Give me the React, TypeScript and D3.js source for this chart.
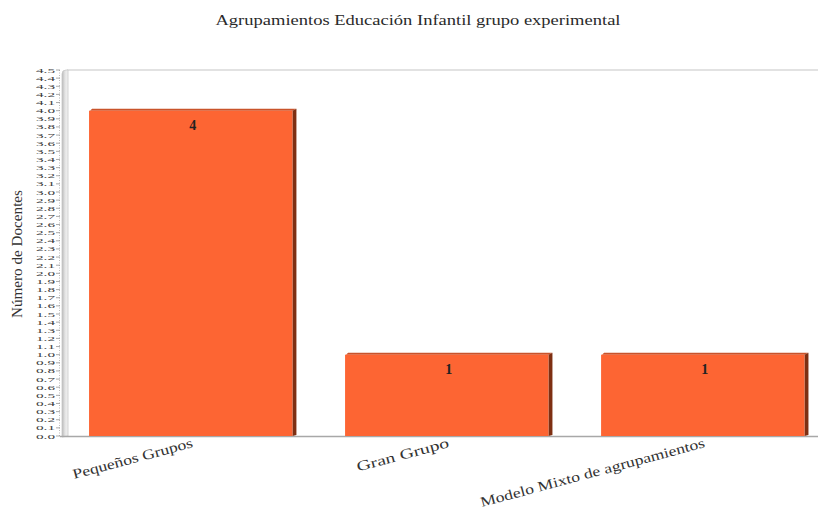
import React from "react";
import * as d3 from "d3";

const title = "Agrupamientos Educación Infantil grupo experimental";
const yTitle = "Número de Docentes";
const categories = ["Pequeños Grupos", "Gran Grupo", "Modelo Mixto de agrupamientos"];
const values = [4, 1, 1];
const labelLengths = [124, 95, 232];
const yTicks = d3.range(0, 46).map((i) => i / 10);

const W = 826;
const H = 520;
const base = 436;
const top = 70;
const serif = "'Liberation Serif', 'DejaVu Serif', serif";

export default function App() {
  const x = d3
    .scaleBand<string>()
    .domain(categories)
    .range([66, 831.5])
    .paddingInner(0.19)
    .paddingOuter(0.09);
  const y = d3.scaleLinear().domain([0, 4.5]).range([base, top]);
  const bw = x.bandwidth();
  const depth = 4;

  return (
    <div style={{ margin: -8, width: W, height: H, overflow: "hidden", background: "#fff" }}>
      <svg width={W} height={H} style={{ display: "block" }}>
        <defs>
          <linearGradient id="wall" x1="0" x2="1" y1="0" y2="0">
            <stop offset="0" stopColor="#b8b8b8" />
            <stop offset="0.5" stopColor="#e4e4e4" />
            <stop offset="1" stopColor="#f2f2f2" />
          </linearGradient>
        </defs>
        <rect width={W} height={H} fill="#fff" />

        <text
          x={418}
          y={25}
          textAnchor="middle"
          fontFamily={serif}
          fontSize={14}
          fill="#2a2a2a"
          textLength={405}
          lengthAdjust="spacingAndGlyphs"
        >
          {title}
        </text>

        {/* back wall outline and side wall */}
        <line x1={67} x2={W} y1={top} y2={top} stroke="#d9d9d9" strokeWidth={1.5} />
        <path
          d={`M62,${base + 1} L62,${top + 4} Q62,${top} 66,${top} L68,${top} L68,${base} Z`}
          fill="url(#wall)"
          stroke="#c8c8c8"
          strokeWidth={0.8}
        />
        <line x1={60} x2={W} y1={base + 0.5} y2={base + 0.5} stroke="#a8a8a8" strokeWidth={1.5} />

        {/* y axis: one tick every 0.1 */}
        <line x1={59.5} x2={59.5} y1={top} y2={base} stroke="#bbb" strokeDasharray="1 1.5" />
        {yTicks.map((t) => (
          <g key={t}>
            <line x1={56} x2={60} y1={y(t)} y2={y(t)} stroke="#888" strokeWidth={0.7} />
            <text
              x={55}
              y={y(t) + 2.5}
              textAnchor="end"
              fontFamily={serif}
              fontSize={7}
              fill="#3a3a3a"
              textLength={19}
              lengthAdjust="spacingAndGlyphs"
            >
              {t.toFixed(1)}
            </text>
          </g>
        ))}
        <text
          transform={`translate(22,254) rotate(-90)`}
          textAnchor="middle"
          fontFamily={serif}
          fontSize={14}
          fill="#333"
          textLength={128}
          lengthAdjust="spacingAndGlyphs"
        >
          {yTitle}
        </text>

        {/* bars with a shaded top and right face */}
        {categories.map((c, i) => {
          const x0 = x(c)!;
          const yt = y(values[i]);
          const fw = bw - depth;
          return (
            <g key={c}>
              <polygon
                points={`${x0 + 1},${yt} ${x0 + 3},${yt - 2} ${x0 + bw},${yt - 2} ${x0 + fw},${yt}`}
                fill="#c9532b"
              />
              <polygon
                points={`${x0 + fw},${yt} ${x0 + bw},${yt - 2} ${x0 + bw},${base - 1} ${x0 + fw},${base}`}
                fill="#7e2f12"
              />
              <rect x={x0} y={yt} width={fw} height={base - yt} fill="#fd6533" />
              <text
                x={x0 + bw / 2}
                y={yt + 19}
                textAnchor="middle"
                fontFamily={serif}
                fontSize={14}
                fontWeight="bold"
                fill="#222"
              >
                {values[i]}
              </text>
            </g>
          );
        })}

        {/* category labels */}
        {categories.map((c, i) => {
          const cx = x(c)! + bw / 2;
          return (
            <text
              key={c}
              transform={`translate(${cx + 1},${447}) rotate(-15)`}
              textAnchor="end"
              fontFamily={serif}
              fontSize={14}
              fill="#333"
              textLength={labelLengths[i]}
              lengthAdjust="spacingAndGlyphs"
            >
              {c}
            </text>
          );
        })}
      </svg>
    </div>
  );
}
